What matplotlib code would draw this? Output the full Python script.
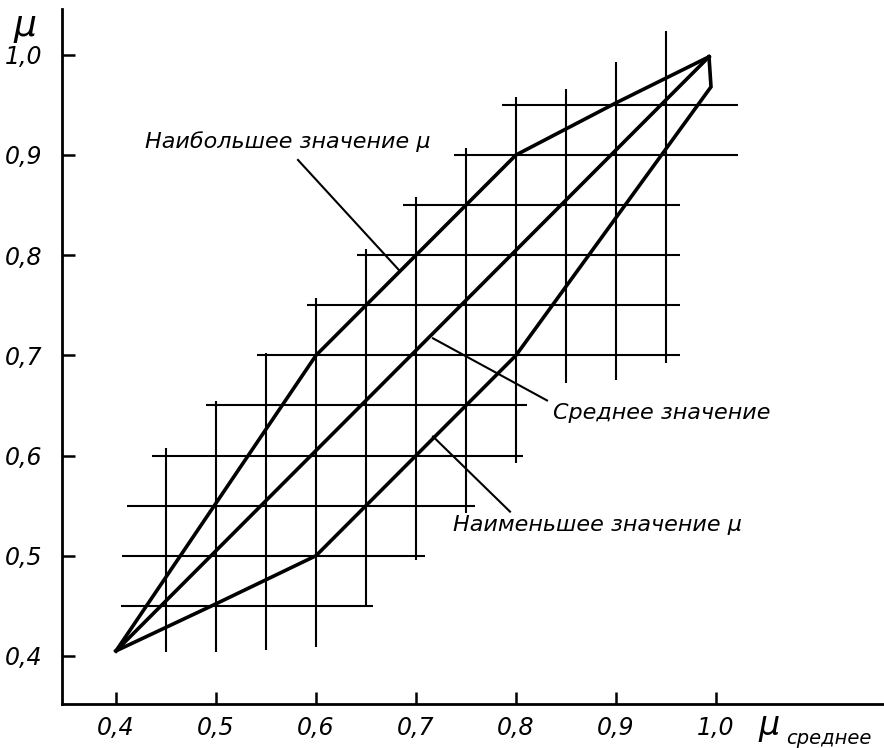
import matplotlib
matplotlib.use("Agg")
import matplotlib.pyplot as plt

# mu vs mu_mean, hand-drawn nomogram
FONT = ["Liberation Sans Narrow", "DejaVu Sans"]

# curves
x_mean = [0.40, 0.993]
y_mean = [0.405, 0.998]

x_max = [0.40, 0.60, 0.80, 0.90, 0.993]
y_max = [0.405, 0.70, 0.90, 0.952, 0.998]

x_min = [0.40, 0.50, 0.60, 0.80, 0.995, 0.993]
y_min = [0.405, 0.452, 0.50, 0.70, 0.968, 0.998]

# staircase grid: horizontal lines
h_y = [0.45, 0.50, 0.55, 0.60, 0.65, 0.70, 0.75, 0.80, 0.85, 0.90, 0.95]
h_x0 = [0.405, 0.406, 0.411, 0.436, 0.490, 0.541, 0.591, 0.641, 0.687, 0.738, 0.786]
h_x1 = [0.657, 0.709, 0.759, 0.807, 0.811, 0.964, 0.964, 0.964, 0.964, 1.022, 1.022]

# vertical lines
v_x = [0.45, 0.50, 0.55, 0.60, 0.65, 0.70, 0.75, 0.80, 0.85, 0.90, 0.95]
v_y0 = [0.404, 0.404, 0.406, 0.409, 0.450, 0.496, 0.543, 0.593, 0.672, 0.675, 0.692]
v_y1 = [0.608, 0.654, 0.702, 0.757, 0.806, 0.858, 0.907, 0.958, 0.966, 0.993, 1.024]

ticks = [0.4, 0.5, 0.6, 0.7, 0.8, 0.9, 1.0]
tick_labels = ["0,4", "0,5", "0,6", "0,7", "0,8", "0,9", "1,0"]

fig = plt.figure(figsize=(8.84, 7.48), dpi=100)
ax = fig.add_axes([62 / 884, 44 / 748, 822 / 884, 695 / 748])

ax.hlines(h_y, h_x0, h_x1, colors="black", linewidth=1.5)
ax.vlines(v_x, v_y0, v_y1, colors="black", linewidth=1.5)

ax.plot(x_mean, y_mean, color="black", linewidth=2.6, solid_joinstyle="miter")
ax.plot(x_max, y_max, color="black", linewidth=2.6, solid_joinstyle="miter")
ax.plot(x_min, y_min, color="black", linewidth=2.6, solid_joinstyle="miter")

# leader lines + labels
ax.plot([0.582, 0.684], [0.895, 0.784], color="black", linewidth=1.5)
ax.plot([0.717, 0.831], [0.717, 0.655], color="black", linewidth=1.5)
ax.plot([0.717, 0.794], [0.619, 0.544], color="black", linewidth=1.5)

txt = dict(family=FONT, style="italic", fontsize=16, color="black")
ax.text(0.429, 0.913, "Наибольшее значение μ", va="center", **txt)
ax.text(0.837, 0.642, "Среднее значение", va="center", **txt)
ax.text(0.737, 0.531, "Наименьшее значение μ", va="center", **txt)

ax.set_xlim(0.346, 1.168)
ax.set_ylim(0.352, 1.0457)
for s in ["top", "right"]:
    ax.spines[s].set_visible(False)
for s in ["left", "bottom"]:
    ax.spines[s].set_linewidth(2)

ax.set_xticks(ticks)
ax.set_xticklabels(tick_labels)
ax.set_yticks(ticks)
ax.set_yticklabels(tick_labels)
ax.tick_params(direction="in", length=9, width=1.8, labelsize=17)
ax.tick_params(axis="x", pad=9)
ax.tick_params(axis="y", pad=14)
for lab in ax.get_xticklabels() + ax.get_yticklabels():
    lab.set_family(FONT)
    lab.set_style("italic")

# axis names
fig.text(25 / 884, 1 - 26 / 748, "μ", ha="center", va="center",
         family=FONT, style="italic", fontsize=26)
fig.text(769 / 884, 1 - 725 / 748, "μ", ha="center", va="center",
         family=FONT, style="italic", fontsize=24)
fig.text(786 / 884, 1 - 738 / 748, "среднее", ha="left", va="center",
         family=FONT, style="italic", fontsize=14)

fig.savefig("out.png", dpi=100)
